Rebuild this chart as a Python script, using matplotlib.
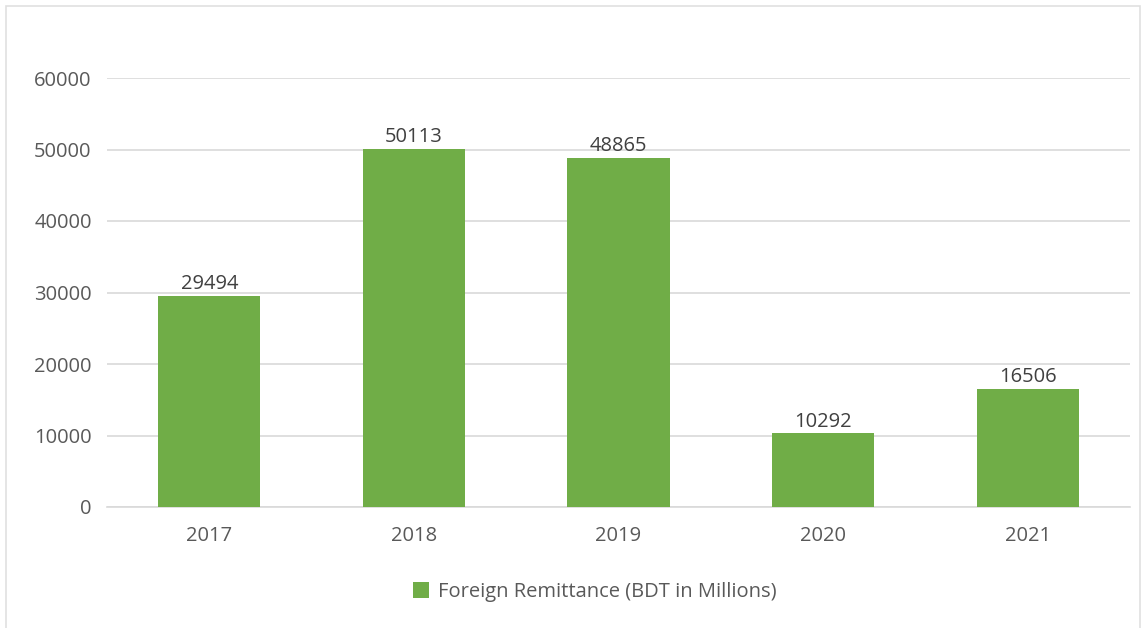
import matplotlib
matplotlib.use('Agg')
import matplotlib.pyplot as plt
import matplotlib.patches as patches

# data
years = ['2017', '2018', '2019', '2020', '2021']
remittance = [29494, 50113, 48865, 10292, 16506]
series_label = 'Foreign Remittance (BDT in Millions)'
y_ticks = [0, 10000, 20000, 30000, 40000, 50000, 60000]

plt.rcParams['font.family'] = ['Open Sans', 'DejaVu Sans']
TEXT = '#595959'
GREEN = '#70AD47'
FS = 14.5

fig = plt.figure(figsize=(11.48, 6.28), dpi=100)
ax = fig.add_axes([107 / 1148, 1 - 507 / 628, 1023 / 1148, 429 / 628])

x = list(range(len(years)))
bars = ax.bar(x, remittance, width=0.5, color=GREEN, zorder=3, label=series_label)

for xi, v in zip(x, remittance):
    ax.text(xi, v + 250, str(v), ha='center', va='bottom', fontsize=FS, color='#404040')

ax.set_xlim(-0.5, len(years) - 0.5)
ax.set_ylim(0, 60000)
ax.set_yticks(y_ticks)
ax.set_yticklabels([str(t) for t in y_ticks])
ax.set_xticks(x)
ax.set_xticklabels(years)
ax.tick_params(axis='both', length=0, labelsize=FS, labelcolor=TEXT)
ax.tick_params(axis='y', pad=11)
ax.tick_params(axis='x', pad=14)
ax.grid(axis='y', color='#D9D9D9', linewidth=1.2, zorder=0)
for s in ['top', 'right', 'left']:
    ax.spines[s].set_visible(False)
ax.spines['bottom'].set_color('#D9D9D9')
ax.spines['bottom'].set_linewidth(1.2)

fig.legend(handles=[bars], labels=[series_label], loc='center',
           bbox_to_anchor=(595 / 1148, 1 - 592 / 628), frameon=False,
           fontsize=FS, labelcolor=TEXT, handlelength=0.8, handleheight=0.8,
           handletextpad=0.45)

# light chart-area border
border = patches.Rectangle((6 / 1148, -0.01), 1134 / 1148, 1 - 6 / 628 + 0.01,
                           transform=fig.transFigure, fill=False,
                           edgecolor='#E0E0E0', linewidth=1.2)
fig.patches.append(border)

fig.savefig('out.png', dpi=100)
